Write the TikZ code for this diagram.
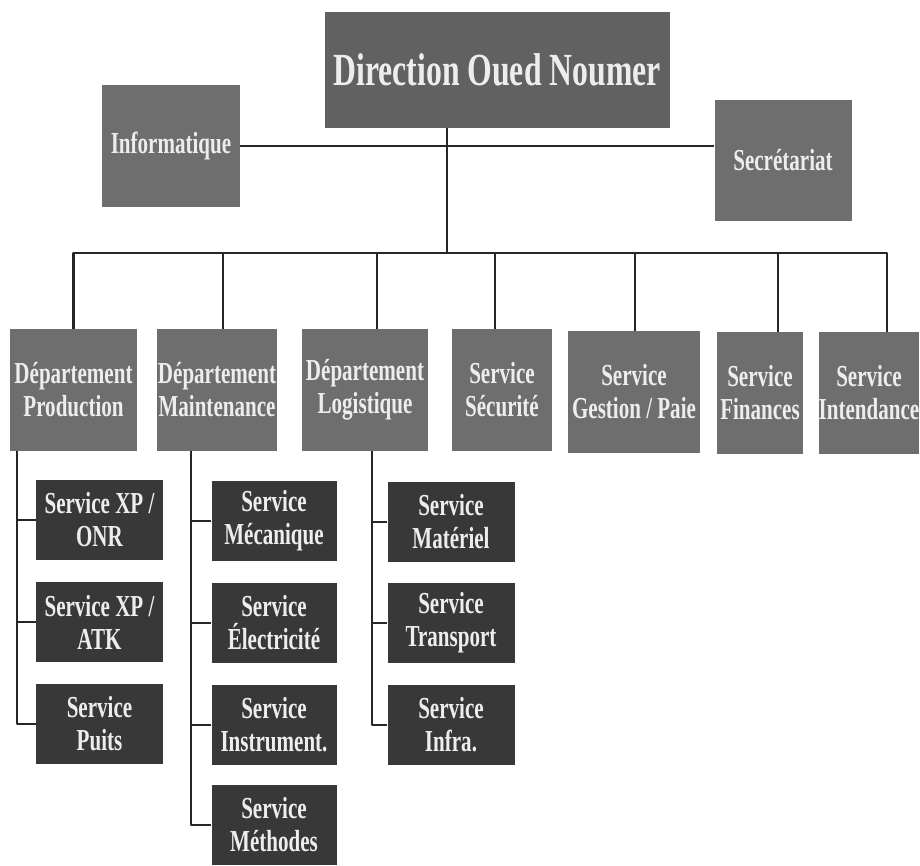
\documentclass[tikz,border=0pt]{standalone}
\usepackage{fontspec}
\newfontfamily\orgfont[FakeStretch=0.69]{Liberation Serif}
\usetikzlibrary{positioning}

\begin{document}
\begin{tikzpicture}[x=1pt,y=-1pt,
		unit/.style={fill=black!57,text=white!93!black,align=center,
			font=\orgfont\bfseries\fontsize{30.5}{33}\selectfont,
			inner sep=0pt,minimum height=122pt},
		subunit/.style={unit,fill=black!78,minimum width=127pt,minimum height=80pt},
		link/.style={line width=2.4pt,black!85,line join=round}]
	
	\useasboundingbox (0,0) rectangle (920,865);
	
	% direction and attached units
	\node[unit,fill=black!62,minimum width=345pt,minimum height=116pt,
		font=\orgfont\bfseries\fontsize{46}{50}\selectfont] (dir) at (497,70) {Direction Oued Noumer};
	\node[unit,minimum width=138pt] (info) at (171,146) {Informatique};
	\node[unit,minimum width=137pt,minimum height=121pt] (secr) at (783,160) {Secrétariat};
	
	% departments and services
	\node[unit,minimum width=127pt] (prod) at (73.5,390) {Département\\Production};
	\node[unit,minimum width=120pt] (maint) at (217,390) {Département\\Maintenance};
	\node[unit,minimum width=126pt] (logi) at (365,390) {Département\\Logistique};
	\node[unit,minimum width=100pt] (secu) at (502,390) {Service\\Sécurité};
	\node[unit,minimum width=132pt] (gest) at (634,392) {Service\\Gestion / Paie};
	\node[unit,minimum width=86pt] (fin) at (760,393) {Service\\Finances};
	\node[unit,minimum width=98pt] (inten) at (869,393) {Service\\Intendance};
	
	% production
	\node[subunit] (xponr) at (99.5,520) {Service XP /\\ONR};
	\node[subunit] (xpatk) at (99.5,622) {Service XP /\\ATK};
	\node[subunit] (puits) at (99.5,724) {Service\\Puits};
	
	% maintenance
	\node[subunit,minimum width=125pt] (meca) at (274,521) {Service\\Mécanique};
	\node[subunit,minimum width=125pt] (elec) at (274,623) {Service\\Électricité};
	\node[subunit,minimum width=125pt] (instr) at (274,725) {Service\\Instrument.};
	\node[subunit,minimum width=125pt] (meth) at (274,825) {Service\\Méthodes};
	
	% logistique
	\node[subunit] (mat) at (451,522) {Service\\Matériel};
	\node[subunit] (trans) at (451,623) {Service\\Transport};
	\node[subunit] (infra) at (451,725) {Service\\Infra.};
	
	% links
	\coordinate (trunk) at (447,253);
	\draw[link] (dir.south -| trunk) -- (trunk);
	\draw[link] (info.east) -- (info.east -| secr.west);
	\draw[link] (prod.north) |- (trunk) -| ([xshift=18pt]inten.north);
	\foreach \n/\dx in {maint/6,logi/12,secu/-7,gest/1,fin/18}
		\draw[link] ([xshift=\dx pt]\n.north) -- ([xshift=\dx pt]\n.north |- trunk);
	
	\draw[link] ([xshift=7pt]prod.south west) coordinate (pspine) |- (puits.west);
	\foreach \s in {xponr,xpatk}
		\draw[link] (\s.west) -- (\s.west -| pspine);
	\draw[link] ([xshift=34pt]maint.south west) coordinate (mspine) |- (meth.west);
	\foreach \s in {meca,elec,instr}
		\draw[link] (\s.west) -- (\s.west -| mspine);
	\draw[link] ([xshift=70pt]logi.south west) coordinate (lspine) |- (infra.west);
	\foreach \s in {mat,trans}
		\draw[link] (\s.west) -- (\s.west -| lspine);
	
\end{tikzpicture}
\end{document}
